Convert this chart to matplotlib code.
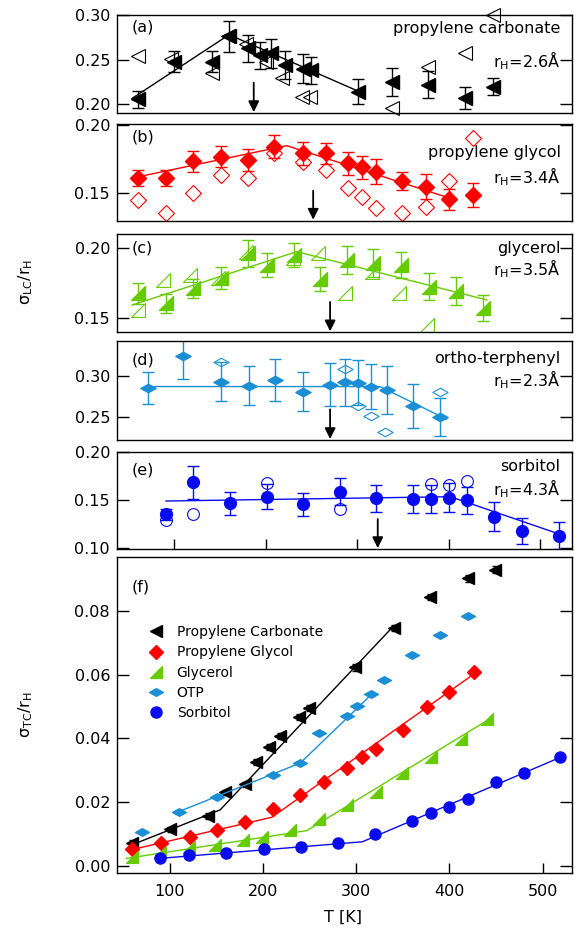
import matplotlib
matplotlib.use('Agg')
import matplotlib.pyplot as plt
from matplotlib.path import Path

plt.rcParams['font.family'] = ['DejaVu Sans']
plt.rcParams['mathtext.default'] = 'regular'

# ---- (a) propylene carbonate, sigma_LC / r_H
pc_lc_T = [60, 100, 141, 160, 181, 194, 206, 221, 241, 250, 301, 338, 378, 418, 449]
pc_lc = [0.206, 0.248, 0.248, 0.276, 0.263, 0.255, 0.257, 0.244, 0.240, 0.238,
         0.214, 0.225, 0.222, 0.207, 0.220]
pc_lc_err = [0.0095, 0.012, 0.012, 0.017, 0.015, 0.015, 0.016, 0.016, 0.016, 0.015,
             0.014, 0.0155, 0.015, 0.012, 0.010]
pc_lc_open_T = [60, 97, 141, 159, 179, 200, 218, 240, 249, 338, 378, 418, 449]
pc_lc_open = [0.254, 0.251, 0.235, 0.276, 0.268, 0.248, 0.229, 0.2085, 0.2085,
              0.1955, 0.242, 0.257, 0.300]
pc_lc_fit_T = [54, 160, 303]
pc_lc_fit = [0.2067, 0.278, 0.214]

# ---- (b) propylene glycol
pg_lc_T = [60, 91, 121, 151, 180.5, 209.6, 240.6, 265.8, 290.5, 305.8, 320.8, 348.8,
           375.4, 400.9, 426.4]
pg_lc = [0.161, 0.161, 0.173, 0.1766, 0.174, 0.184, 0.179, 0.179, 0.1717, 0.1687,
         0.1655, 0.1586, 0.1544, 0.145, 0.1483]
pg_lc_err = [0.006, 0.006, 0.0074, 0.0076, 0.008, 0.0085, 0.0084, 0.008, 0.0084,
             0.0086, 0.009, 0.0065, 0.0092, 0.008, 0.009]
pg_lc_open = [0.1446, 0.1352, 0.150, 0.163, 0.161, 0.1796, 0.1729, 0.1668, 0.1532,
              0.1466, 0.1385, 0.1348, 0.1397, 0.1586, 0.190]
pg_lc_fit_T = [60, 223, 401]
pg_lc_fit = [0.1616, 0.1847, 0.146]

# ---- (c) glycerol
gly_lc_T = [60, 91, 121, 151, 180.5, 201, 231.5, 260, 289.5, 317.8, 347.7, 379, 408, 438]
gly_lc = [0.1677, 0.1606, 0.1712, 0.1783, 0.196, 0.1878, 0.1948, 0.1778, 0.1913,
          0.189, 0.1878, 0.1724, 0.1696, 0.157]
gly_lc_err = [0.0073, 0.0065, 0.0065, 0.0077, 0.0094, 0.0088, 0.0088, 0.0087, 0.010,
              0.010, 0.0092, 0.0097, 0.010, 0.0092]
gly_lc_open_T = [60, 88, 117.5, 148, 178, 230, 257.7, 287, 316, 346, 376]
gly_lc_open = [0.1559, 0.1771, 0.1807, 0.1783, 0.1972, 0.1925, 0.196, 0.1677, 0.183,
               0.1677, 0.1453]
gly_lc_fit_T = [54, 234, 442]
gly_lc_fit = [0.1594, 0.1972, 0.163]

# ---- (d) ortho-terphenyl
otp_lc_T = [71, 110, 151, 182, 210, 241, 270.5, 287, 300.7, 315.3, 332.5, 361.5, 390.7]
otp_lc = [0.2846, 0.324, 0.2927, 0.2878, 0.2948, 0.2805, 0.2887, 0.292, 0.2915,
          0.2866, 0.2826, 0.263, 0.2493]
otp_lc_err = [0.0195, 0.0285, 0.0238, 0.0238, 0.0254, 0.0236, 0.026, 0.0287, 0.027,
              0.027, 0.0289, 0.0266, 0.0234]
otp_lc_open_T = [151, 287, 300.7, 315.3, 330.6, 390.7]
otp_lc_open = [0.3163, 0.3082, 0.263, 0.2509, 0.2317, 0.2797]
otp_lc_fit_T = [71, 325, 398]
otp_lc_fit = [0.2866, 0.2866, 0.2468]

# ---- (e) sorbitol
sor_lc_T = [91.3, 121, 161, 201, 241, 281, 321, 361, 380.5, 400, 420, 450, 480, 521]
sor_lc = [0.1354, 0.1687, 0.1469, 0.1538, 0.1458, 0.159, 0.152, 0.1514, 0.1514,
          0.1527, 0.150, 0.133, 0.118, 0.1132]
sor_lc_err = [0.0055, 0.017, 0.012, 0.013, 0.0116, 0.014, 0.014, 0.0142, 0.0145,
              0.015, 0.014, 0.015, 0.0134, 0.014]
sor_lc_open_T = [91.3, 121, 201, 281, 380.5, 400, 420]
sor_lc_open = [0.1295, 0.1354, 0.1677, 0.141, 0.1667, 0.166, 0.170]
sor_lc_fit_T = [91, 402, 522]
sor_lc_fit = [0.1493, 0.1538, 0.1146]

# arrow positions (K) for panels a-e
arrow_T = [187, 252, 270.5, 270.5, 322.6]

# ---- (f) sigma_TC / r_H
pc_tc_T = [59, 100, 141, 159, 181, 193, 206, 218.5, 239, 249, 299, 340, 379, 419.5, 449]
pc_tc = [0.0073, 0.0115, 0.0157, 0.0231, 0.0257, 0.0327, 0.0373, 0.0408, 0.0467,
         0.0495, 0.0623, 0.0746, 0.0844, 0.0903, 0.0929]
pc_tc_err = [0.0008, 0.0008, 0.0008, 0.0008, 0.0008, 0.0009, 0.0009, 0.0009, 0.0009,
             0.001, 0.001, 0.001, 0.001, 0.0011, 0.0011]
pc_tc_fit_T = [59, 154, 340.5]
pc_tc_fit = [0.0066, 0.0176, 0.0754]

pg_tc_T = [60, 91, 121.6, 150.4, 180.8, 210.6, 240, 265.2, 289.6, 306.4, 320.8, 350.6,
           375.7, 399.7, 425.9]
pg_tc = [0.0052, 0.0071, 0.0092, 0.0113, 0.0139, 0.0179, 0.0223, 0.0262, 0.0307,
         0.0341, 0.0367, 0.0427, 0.0498, 0.0547, 0.0608]
pg_tc_fit_T = [60, 209.5, 426.6]
pg_tc_fit = [0.0052, 0.0153, 0.0603]

gly_tc_T = [59, 89.3, 121, 148.5, 178.4, 198.8, 229.3, 259.7, 289.6, 320.8, 349.5,
            380, 412.3, 440.3]
gly_tc = [0.0027, 0.0045, 0.0059, 0.0066, 0.0082, 0.0090, 0.0113, 0.0148, 0.0192,
          0.0233, 0.0291, 0.0343, 0.0398, 0.0461]
gly_tc_fit_T = [53.5, 247, 444.6]
gly_tc_fit = [0.0024, 0.0111, 0.0464]

otp_tc_T = [70.7, 110, 150.4, 210.6, 240, 259.7, 289.6, 300.3, 315.4, 329.7, 360.2,
            390, 420]
otp_tc = [0.0108, 0.0171, 0.0216, 0.0286, 0.0322, 0.0418, 0.0472, 0.0503, 0.0539,
          0.0584, 0.0663, 0.0725, 0.0785]
otp_tc_fit_T = [110, 240, 317]
otp_tc_fit = [0.0171, 0.0323, 0.054]

sor_tc_T = [89.3, 121, 160.4, 200.6, 240.8, 280.2, 320, 360.2, 380, 399.7, 420, 450,
            479.7, 518.8]
sor_tc = [0.0024, 0.0035, 0.0042, 0.0052, 0.0059, 0.0071, 0.0100, 0.0141, 0.0165,
          0.0186, 0.0210, 0.0262, 0.0293, 0.0341]
sor_tc_fit_T = [89.3, 306.5, 519]
sor_tc_fit = [0.0024, 0.0076, 0.0341]

BLACK = '#000000'
RED = '#ff0000'
GREEN = '#66cc00'
LBLUE = '#1a8fd6'
BLUE = '#0a0af0'

# custom markers: right-angle triangle and flat diamond
tri_m = Path([(-1, -1), (1, 1), (1, -1), (-1, -1)],
             [Path.MOVETO, Path.LINETO, Path.LINETO, Path.CLOSEPOLY])
flat_d = Path([(-1, 0), (0, 0.55), (1, 0), (0, -0.55), (-1, 0)],
              [Path.MOVETO, Path.LINETO, Path.LINETO, Path.LINETO, Path.CLOSEPOLY])

FS = 11.5
fig = plt.figure(figsize=(5.79, 9.35), dpi=100)
L, W = 0.2021, 0.7858


def style_axes(ax, yticks, ylim, xlim):
    ax.set_xlim(*xlim)
    ax.set_ylim(*ylim)
    ax.set_yticks(yticks)
    ax.set_yticklabels(['%.2f' % t for t in yticks])
    ax.tick_params(axis='y', direction='in', length=8.5, width=1, left=True,
                   right=True, labelsize=FS, pad=5)
    for s in ax.spines.values():
        s.set_linewidth(1.0)


def lc_panel(rect, T, v, err, oT, ov, fT, fv, color, marker, ms, ylim, yticks,
             letter, name, rh, pos, arrow):
    ax = fig.add_axes(rect)
    ax.plot(fT, fv, '-', color=color, lw=1.0)
    ax.errorbar(T, v, yerr=err, fmt='none', ecolor=color, elinewidth=1.0,
                capsize=4.5, capthick=1.0)
    ax.plot(T, v, linestyle='none', marker=marker, ms=ms, color=color,
            mec=color, clip_on=False)
    ax.plot(oT, ov, linestyle='none', marker=marker, ms=ms, mfc='none',
            mec=color, mew=0.8, clip_on=False)
    style_axes(ax, yticks, ylim, (37.5, 535))
    ax.tick_params(axis='x', bottom=False, labelbottom=False)
    ax.text(0.033, pos[0], letter, transform=ax.transAxes, fontsize=FS,
            ha='left', va='center')
    ax.text(0.975, pos[1], name, transform=ax.transAxes, fontsize=FS,
            ha='right', va='center')
    ax.text(0.975, pos[2], rh, transform=ax.transAxes, fontsize=FS,
            ha='right', va='center')
    ax.annotate('', xy=(arrow, 0.01), xycoords=('data', 'axes fraction'),
                xytext=(arrow, 0.31), textcoords=('data', 'axes fraction'),
                arrowprops=dict(arrowstyle='-|>', color='k', lw=1.3,
                                mutation_scale=16, shrinkA=0, shrinkB=0))
    return ax


ax_a = lc_panel([L, 0.8791, W, 0.1048], pc_lc_T, pc_lc, pc_lc_err, pc_lc_open_T,
                pc_lc_open, pc_lc_fit_T, pc_lc_fit, BLACK, '<', 9.5,
                (0.1903, 0.30), [0.20, 0.25, 0.30], '(a)', 'propylene carbonate',
                r'r$_{H}$=2.6Å', (0.875, 0.865, 0.53), arrow_T[0])
ax_b = lc_panel([L, 0.7640, W, 0.1034], pg_lc_T, pg_lc, pg_lc_err, pg_lc_T,
                pg_lc_open, pg_lc_fit_T, pg_lc_fit, RED, 'D', 8,
                (0.1293, 0.2007), [0.15, 0.20], '(b)', 'propylene glycol',
                r'r$_{H}$=3.4Å', (0.865, 0.70, 0.455), arrow_T[1])
ax_c = lc_panel([L, 0.6446, W, 0.1048], gly_lc_T, gly_lc, gly_lc_err, gly_lc_open_T,
                gly_lc_open, gly_lc_fit_T, gly_lc_fit, GREEN, tri_m, 10,
                (0.1401, 0.2095), [0.15, 0.20], '(c)', 'glycerol',
                r'r$_{H}$=3.5Å', (0.86, 0.86, 0.65), arrow_T[2])
ax_d = lc_panel([L, 0.5294, W, 0.1059], otp_lc_T, otp_lc, otp_lc_err, otp_lc_open_T,
                otp_lc_open, otp_lc_fit_T, otp_lc_fit, LBLUE, flat_d, 11,
                (0.2216, 0.342), [0.25, 0.30], '(d)', 'ortho-terphenyl',
                r'r$_{H}$=2.3Å', (0.81, 0.825, 0.605), arrow_T[3])
ax_e = lc_panel([L, 0.4128, W, 0.1034], sor_lc_T, sor_lc, sor_lc_err, sor_lc_open_T,
                sor_lc_open, sor_lc_fit_T, sor_lc_fit, BLUE, 'o', 8.5,
                (0.0993, 0.20), [0.10, 0.15, 0.20], '(e)', 'sorbitol',
                r'r$_{H}$=4.3Å', (0.815, 0.85, 0.625), arrow_T[4])
ax_e.set_xticks([100, 200, 300, 400, 500])
ax_e.tick_params(axis='x', bottom=True, labelbottom=False, direction='in',
                 length=7, width=1)

# ---- panel f
ax = fig.add_axes([L, 0.0666, W, 0.3373])
series = [
    (pc_tc_T, pc_tc, pc_tc_fit_T, pc_tc_fit, BLACK, '<', 8, 'Propylene Carbonate'),
    (pg_tc_T, pg_tc, pg_tc_fit_T, pg_tc_fit, RED, 'D', 7, 'Propylene Glycol'),
    (gly_tc_T, gly_tc, gly_tc_fit_T, gly_tc_fit, GREEN, tri_m, 8.5, 'Glycerol'),
    (otp_tc_T, otp_tc, otp_tc_fit_T, otp_tc_fit, LBLUE, flat_d, 10, 'OTP'),
    (sor_tc_T, sor_tc, sor_tc_fit_T, sor_tc_fit, BLUE, 'o', 8, 'Sorbitol'),
]
ax.errorbar(pc_tc_T, pc_tc, yerr=pc_tc_err, fmt='none', ecolor=BLACK,
            elinewidth=1.0, capsize=2.5, capthick=1.0)
handles = []
for T, v, fT, fv, c, m, ms, lab in series:
    ax.plot(fT, fv, '-', color=c, lw=1.0)
    h, = ax.plot(T, v, linestyle='none', marker=m, ms=ms, color=c, label=lab,
                 clip_on=False)
    handles.append(h)

style_axes(ax, [0.00, 0.02, 0.04, 0.06, 0.08], (-0.0021, 0.0968), (43.4, 531.4))
ax.set_xticks([100, 200, 300, 400, 500])
ax.tick_params(axis='x', direction='in', length=7, width=1, labelsize=FS, pad=8)
ax.text(0.033, 0.905, '(f)', transform=ax.transAxes, fontsize=FS, ha='left',
        va='center')
ax.legend(handles=handles, loc='upper left', bbox_to_anchor=(0.07, 0.785),
          frameon=False, fontsize=10, handlelength=1.0, handletextpad=1.0,
          labelspacing=0.45, borderaxespad=0, borderpad=0)

fig.text(0.045, 1 - 282 / 935, r'$\sigma_{LC}/r_H$', rotation=90, ha='center',
         va='center', fontsize=FS)
fig.text(0.045, 1 - 715 / 935, r'$\sigma_{TC}/r_H$', rotation=90, ha='center',
         va='center', fontsize=FS)
fig.text(343 / 579, 1 - 917 / 935, 'T [K]', ha='center', va='center', fontsize=FS)

fig.savefig('out.png', dpi=100)
